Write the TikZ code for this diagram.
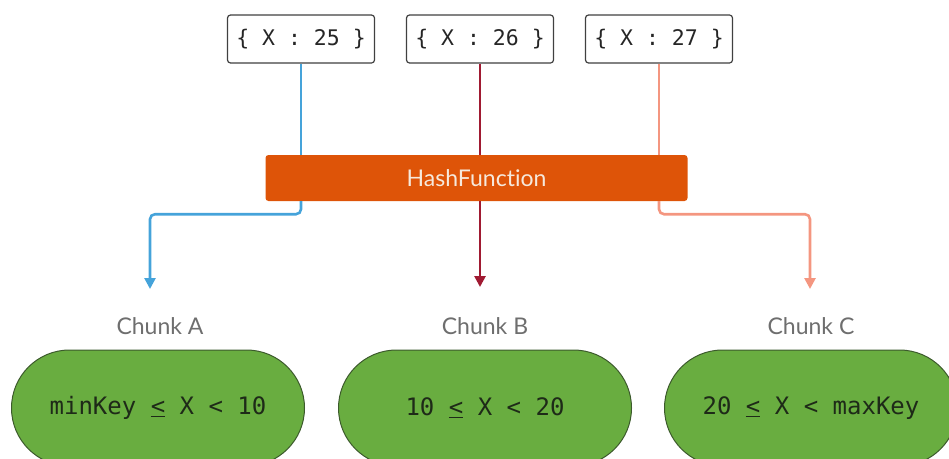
\documentclass[tikz,border=0pt]{standalone}
\usepackage{fontspec}
\setmainfont{Lato}[Ligatures={NoCommon}]
\newfontfamily\codefont{DejaVu Sans Mono}
\usetikzlibrary{arrows.meta}
\definecolor{hashorange}{HTML}{DE5408}
\definecolor{hashtext}{HTML}{F6E9DC}
\definecolor{keyblue}{HTML}{45A3DA}
\definecolor{keyred}{HTML}{A01A32}
\definecolor{keysalmon}{HTML}{F49680}
\definecolor{chunkgreen}{HTML}{69AD40}
\definecolor{chunkedge}{HTML}{3C5A2C}
\definecolor{chunkink}{HTML}{1E2A18}
\definecolor{labelgray}{HTML}{6E6E6E}
% "less than or equal" drawn as an underlined <
\newcommand{\uleq}{\underline{<}}
\tikzset{
  keybox/.style={draw=black!75, line width=1.2pt, rounded corners=3pt, fill=white,
    minimum width=147pt, minimum height=48pt, inner sep=0pt,
    font=\codefont\fontsize{21.5}{25}\selectfont, text=black!85},
  hashbox/.style={fill=hashorange, rounded corners=3pt, minimum width=422pt,
    minimum height=46pt, inner sep=0pt, text=hashtext,
    font=\fontsize{23}{27}\selectfont},
  chunklabel/.style={text=labelgray, font=\fontsize{23}{27}\selectfont, inner sep=0pt},
  chunkpill/.style={draw=chunkedge, line width=1pt, fill=chunkgreen, rounded corners=58pt,
    minimum width=293pt, minimum height=116pt, inner sep=0pt, text=chunkink,
    font=\codefont\fontsize{24}{29}\selectfont},
  link/.style={line width=2.6pt},
  flow/.style={line width=2.6pt, rounded corners=5pt, -{Triangle[length=11pt,width=11pt]}}
}
\begin{document}
\begin{tikzpicture}[x=1pt,y=-1pt]
\useasboundingbox (0,0) rectangle (949,458);
\clip (0,0) rectangle (949,458);

% input records
\node[keybox] (k25) at (301,39) {\{ X : 25 \}};
\node[keybox] (k26) at (480,39) {\{ X : 26 \}};
\node[keybox] (k27) at (659,39) {\{ X : 27 \}};

% hash function
\node[hashbox] (hash) at (476.5,178) {HashFunction};

% chunk labels and ranges
\node[chunklabel] (la) at (160,326) {Chunk A};
\node[chunklabel] (lb) at (485,326) {Chunk B};
\node[chunklabel] (lc) at (811,326) {Chunk C};

\node[chunkpill] (ca) at (158,408) {minKey \uleq{} X < 10};
\node[chunkpill] (cb) at (485,408) {10 \uleq{} X < 20};
\node[chunkpill] (cc) at (811,408) {20 \uleq{} X < maxKey};

% arrow ends above the labels
\coordinate (ta) at (150,289);
\coordinate (tb) at (480,287);
\coordinate (tc) at (810,289);

% records into the hash function
\draw[link, keyblue]   (k25.south) -- (hash.north -| k25.south);
\draw[link, keyred]    (k26.south) -- (hash.north -| k26.south);
\draw[link, keysalmon] (k27.south) -- (hash.north -| k27.south);

% hash function out to the chunks
\draw[flow, keyblue]   (hash.south -| k25.south) -- ++(0,13) -| (ta);
\draw[flow, keyred]    (hash.south -| k26.south) -- (tb);
\draw[flow, keysalmon] (hash.south -| k27.south) -- ++(0,13) -| (tc);
\end{tikzpicture}
\end{document}
